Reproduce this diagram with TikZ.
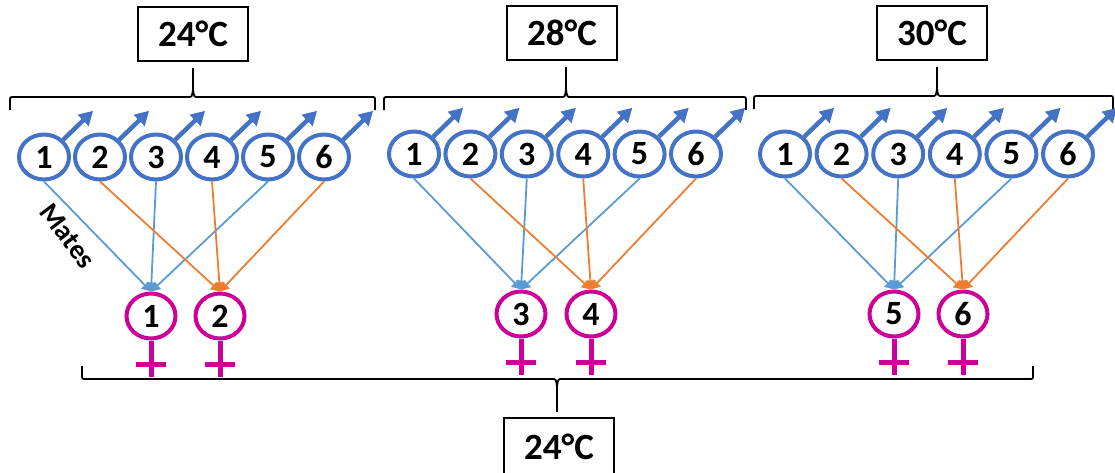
\documentclass[tikz,border=0pt]{standalone}
\usepackage{fontspec}
\setmainfont{Carlito}
\usetikzlibrary{shapes.geometric,arrows.meta}
\definecolor{maleblue}{RGB}{68,114,196}
\definecolor{lineblue}{RGB}{91,155,213}
\definecolor{lineorange}{RGB}{237,125,49}
\definecolor{femalepink}{RGB}{204,0,153}

% brace: #1 left x, #2 middle x, #3 right x, #4 line y, #5 = 1 (ends down) or -1 (ends up)
\newcommand\tempbrace[5]{%
  \draw[bracestyle] ({#1},{#4+13*#5}) -- ({#1},{#4+4*#5})
    .. controls ({#1},{#4}) .. ({#1+4},{#4}) -- ({#2-5},{#4})
    .. controls ({#2-1},{#4}) .. ({#2},{#4-8*#5})
    .. controls ({#2+1},{#4}) .. ({#2+5},{#4}) -- ({#3-4},{#4})
    .. controls ({#3},{#4}) .. ({#3},{#4+4*#5}) -- ({#3},{#4+13*#5});}

\begin{document}
\begin{tikzpicture}[x=1pt,y=-1pt,
  male/.style={ellipse, draw=maleblue, line width=4pt, fill=white,
    minimum width=50pt, minimum height=45pt, inner sep=0pt,
    font=\fontsize{34}{34}\selectfont\bfseries},
  female/.style={ellipse, draw=femalepink, line width=4pt, fill=white,
    minimum width=49pt, minimum height=45pt, inner sep=0pt,
    font=\fontsize{34}{34}\selectfont\bfseries},
  malearrow/.style={draw=maleblue, line width=4.5pt,
    -{Triangle[length=14pt,width=15pt]}},
  femalestroke/.style={draw=femalepink, line width=5pt},
  tempbox/.style={draw, line width=1.5pt, minimum width=110pt, minimum height=54pt,
    inner sep=0pt, font=\fontsize{37}{37}\selectfont\bfseries},
  bracestyle/.style={draw, line width=1.8pt},
  mateblue/.style={draw=lineblue, line width=1.8pt, -{Triangle[length=9pt,width=10pt]}},
  mateorange/.style={draw=lineorange, line width=1.8pt, -{Triangle[length=9pt,width=10pt]}},
]
\useasboundingbox (0,0) rectangle (1115,472);

% temperature boxes
\node[tempbox] (t1) at (193,34) {24°C};
\node[tempbox] (t2) at (562,33) {28°C};
\node[tempbox] (t3) at (932,33) {30°C};
\node[tempbox, minimum height=58pt] (t4) at (559,447) {24°C};

% braces and their stems
\tempbrace{10}{193}{375}{97}{1}
\tempbrace{384}{566}{746}{97}{1}
\tempbrace{754}{937}{1113}{96}{1}
\tempbrace{82}{557}{1033}{379}{-1}
\draw[bracestyle] (t1.south) ++(0,6) -- (193,89);
\draw[bracestyle] (566,67) -- (566,89);
\draw[bracestyle] (937,67) -- (937,88);
\draw[bracestyle] (t4.north) ++(-2,-5) -- (557,387);

% males
\foreach \g/\x/\y/\s in {1/44/157/56, 2/414/154/56.4, 3/785/154/56.6} {
  \foreach \i in {1,...,6} {
    \node[male] (m\g\i) at ({\x+\s*(\i-1)},\y) {\i};
    \draw[malearrow] (m\g\i.42) -- ++(30,-29);
  }
}

% females
\foreach \n/\x/\y in {1/151/316, 2/220/316, 3/521/314, 4/591/314, 5/894/314, 6/963/314} {
  \node[female] (f\n) at (\x,\y) {\n};
  \draw[femalestroke] (f\n.south) -- ++(0,36);
  \draw[femalestroke] ([shift={(-15,24)}]f\n.south) -- ++(30,0);
}

% matings
\foreach \g/\a/\b in {1/1/2, 2/3/4, 3/5/6} {
  \foreach \i in {1,3,5} \draw[mateblue] (m\g\i.south) -- (f\a.north);
  \foreach \i in {2,4,6} \draw[mateorange] (m\g\i.south) -- (f\b.north);
}

\node[rotate=-53, font=\fontsize{28}{28}\selectfont\bfseries] (mates) at (68,236) {Mates};
\end{tikzpicture}
\end{document}
